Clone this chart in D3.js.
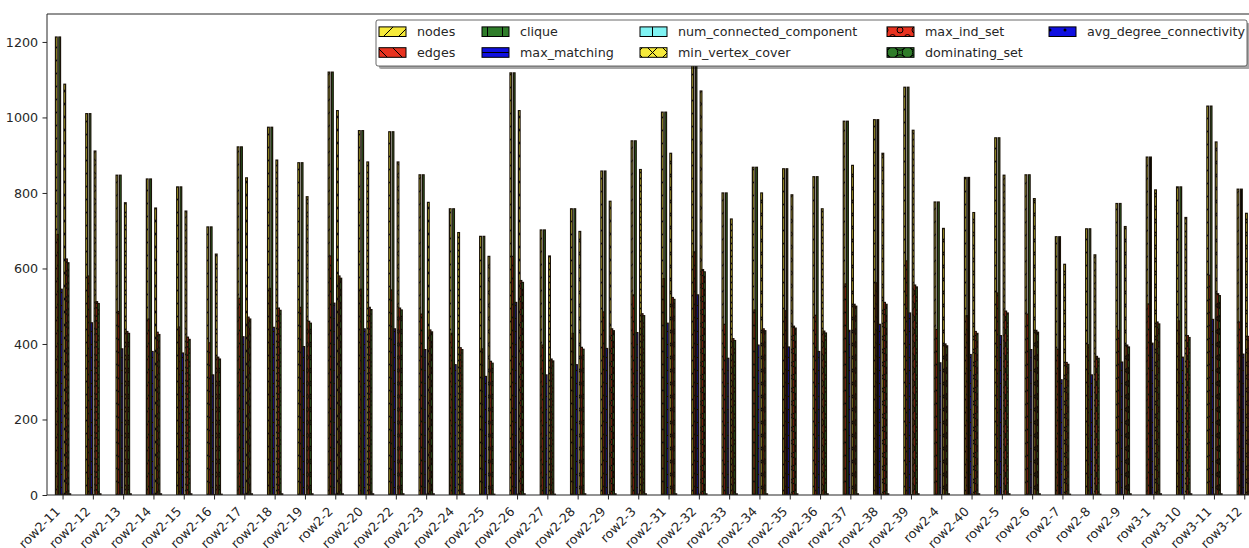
<!DOCTYPE html>
<html>
<head>
<meta charset="utf-8">
<script src="https://cdn.jsdelivr.net/npm/d3@7"></script>
<style>
  html, body { margin: 0; padding: 0; background: #fff; }
  svg { display: block; font-family: "DejaVu Sans", sans-serif; }
</style>
</head>
<body>
<svg id="chart" width="1249" height="548"></svg>
<script>
// ---- data -------------------------------------------------------------
const categories = ['row2-11','row2-12','row2-13','row2-14','row2-15','row2-16','row2-17','row2-18','row2-19','row2-2',
  'row2-20','row2-22','row2-23','row2-24','row2-25','row2-26','row2-27','row2-28','row2-29','row2-3',
  'row2-31','row2-32','row2-33','row2-34','row2-35','row2-36','row2-37','row2-38','row2-39','row2-4',
  'row2-40','row2-5','row2-6','row2-7','row2-8','row2-9','row3-1','row3-10','row3-11','row3-12'];

const nodes = [1213,1010,847,837,816,710,922,974,880,1120, 965,962,848,758,685,1118,702,758,858,938,
  1014,1150,800,868,864,843,990,994,1080,776, 841,946,848,684,705,772,895,816,1030,810];
const edges = [690,580,486,466,445,403,521,547,497,633, 545,543,479,428,387,632,397,428,485,530,
  573,644,452,490,488,476,559,562,620,438, 475,535,479,386,398,436,506,461,582,458];
const clique = [1213,1010,847,837,816,710,922,974,880,1120, 965,962,848,758,685,1118,702,758,858,938,
  1014,1150,800,868,864,843,990,994,1080,776, 841,946,848,684,705,772,895,816,1030,810];
const maxMatching = [545,456,387,380,376,318,419,444,393,508, 440,440,385,345,314,510,318,345,388,430,
  455,530,362,397,392,380,436,452,482,350, 372,422,385,305,318,352,402,365,465,373];
const numConnectedComponent = [2,1,1,2,1,1,2,1,1,2, 1,1,2,1,1,2,1,1,1,2, 1,2,1,1,2,1,1,2,1,1, 2,1,1,1,2,1,1,1,2,1];
const minVertexCover = [1088,911,774,760,752,638,840,887,790,1018, 882,882,775,695,632,1018,633,698,778,862,
  905,1070,731,800,795,758,873,905,966,706, 748,847,785,611,636,711,808,735,935,746];
const maxIndSet = [625,512,433,431,418,365,471,495,460,580, 497,495,437,390,354,568,360,391,440,480,
  523,597,414,440,447,434,505,510,556,400, 433,487,436,351,367,397,458,422,533,420];
const dominatingSet = [615,507,428,425,412,360,466,489,455,574, 491,490,432,385,349,563,355,386,435,475,
  518,591,409,435,442,429,500,505,551,395, 428,482,431,346,362,392,453,417,528,415];
const avgDegreeConnectivity = [3,3,3,3,3,2,3,3,3,3, 3,3,3,3,2,3,2,3,3,3, 3,3,3,3,3,3,3,3,3,3, 3,3,3,2,2,3,3,3,3,3];

const seriesNames = ['nodes','edges','clique','max_matching','num_connected_component',
  'min_vertex_cover','max_ind_set','dominating_set','avg_degree_connectivity'];
const seriesValues = [nodes, edges, clique, maxMatching, numConnectedComponent,
  minVertexCover, maxIndSet, dominatingSet, avgDegreeConnectivity];
const seriesColors = ['#f6ea3a','#e8321f','#2f7d2a','#1010e0','#7ff3f3',
  '#f6ea3a','#e8321f','#2f7d2a','#1010e0'];
const seriesHatches = ['/','\\','|','-','+','x','o','O','.'];
const yTicks = [0, 200, 400, 600, 800, 1000, 1200];

// ---- layout -----------------------------------------------------------
const svg = d3.select('#chart');
const W = 1249, H = 548;
const plotLeft = 47, plotTop = 14, plotBottom = 495;
const step = 30.3;
const fontSize = 12.7;

const x = d3.scaleBand()
  .domain(categories)
  .range([47.9, 47.9 + step * categories.length])
  .padding(0);
const groupWidth = x.bandwidth() * 0.5;
const xInner = d3.scaleBand()
  .domain(seriesNames)
  .range([-groupWidth / 2, groupWidth / 2]);
const y = d3.scaleLinear().domain([0, 1274]).range([plotBottom, plotTop]);

// ---- hatch patterns ---------------------------------------------------
const defs = svg.append('defs');
function makePattern(id, color, hatch, size, lw) {
  const s = size;
  const p = defs.append('pattern')
    .attr('id', id)
    .attr('patternUnits', 'userSpaceOnUse')
    .attr('width', s).attr('height', s);
  p.append('rect').attr('width', s).attr('height', s).attr('fill', color);
  const ln = (x1, y1, x2, y2) => p.append('line')
    .attr('x1', x1).attr('y1', y1).attr('x2', x2).attr('y2', y2)
    .attr('stroke', '#000').attr('stroke-width', lw);
  const ring = (cx, cy, r, filled) => p.append('circle')
    .attr('cx', cx).attr('cy', cy).attr('r', r)
    .attr('fill', filled ? '#000' : 'none')
    .attr('stroke', '#000').attr('stroke-width', filled ? 0 : lw);
  const fwd = () => { ln(0, s, s, 0); ln(-s, s, s, -s); ln(0, 2 * s, 2 * s, 0); };
  const back = () => { ln(0, 0, s, s); ln(-s, 0, s, 2 * s); ln(0, -s, 2 * s, s); };
  const lattice = (r, filled) => {
    [[0, 0], [s, 0], [0, s], [s, s], [s / 2, s / 2]].forEach(([cx, cy]) => ring(cx, cy, r, filled));
  };
  switch (hatch) {
    case '/': fwd(); break;
    case '\\': back(); break;
    case '|': ln(s / 2, 0, s / 2, s); break;
    case '-': ln(0, s / 2, s, s / 2); break;
    case '+': ln(s / 2, 0, s / 2, s); ln(0, s / 2, s, s / 2); break;
    case 'x': fwd(); back(); break;
    case 'o': lattice(s * 0.2, false); break;
    case 'O': lattice(s * 0.35, false); break;
    case '.': lattice(s * 0.1, true); break;
  }
}
seriesNames.forEach((name, i) => {
  makePattern('hatch-' + i, seriesColors[i], seriesHatches[i], 13, 1.2);
  makePattern('legend-hatch-' + i, seriesColors[i], seriesHatches[i], 15, 1);
});

defs.append('clipPath').attr('id', 'plot-clip')
  .append('rect').attr('x', plotLeft).attr('y', plotTop)
  .attr('width', W - plotLeft + 20).attr('height', plotBottom - plotTop);

// ---- bars -------------------------------------------------------------
const barLayer = svg.append('g').attr('clip-path', 'url(#plot-clip)');
seriesNames.forEach((name, i) => {
  barLayer.append('g')
    .selectAll('rect')
    .data(categories.map((c, j) => ({ c, v: seriesValues[i][j] })))
    .join('rect')
    .attr('x', d => x(d.c) + x.bandwidth() / 2 + xInner(name))
    .attr('width', xInner.bandwidth())
    .attr('y', d => y(d.v))
    .attr('height', d => y(0) - y(d.v))
    .attr('fill', 'url(#hatch-' + i + ')')
    .attr('stroke', '#1a1208')
    .attr('stroke-width', 1.25);
});

// ---- axes -------------------------------------------------------------
const yAxis = svg.append('g')
  .attr('transform', `translate(${plotLeft},0)`)
  .call(d3.axisLeft(y).tickValues(yTicks).tickFormat(d3.format('d'))
    .tickSize(4.5).tickSizeOuter(0).tickPadding(4.4));
yAxis.select('.domain').remove();
yAxis.selectAll('text').attr('font-size', fontSize).attr('font-family', '"DejaVu Sans", sans-serif').attr('fill', '#262626');
yAxis.selectAll('line').attr('stroke', '#262626');

const xAxis = svg.append('g')
  .attr('transform', `translate(0,${plotBottom})`)
  .call(d3.axisBottom(x).tickSize(4.5).tickSizeOuter(0));
xAxis.select('.domain').remove();
xAxis.selectAll('line').attr('stroke', '#262626');
xAxis.selectAll('text')
  .attr('font-size', fontSize)
  .attr('font-family', '"DejaVu Sans", sans-serif')
  .attr('fill', '#262626')
  .attr('text-anchor', 'end')
  .attr('dy', null)
  .attr('y', 0)
  .attr('transform', 'translate(-2.1,17.3) rotate(-45)');

// spines
const spine = svg.append('g').attr('stroke', '#262626').attr('stroke-width', 1).attr('fill', 'none');
spine.append('line').attr('x1', plotLeft).attr('x2', plotLeft).attr('y1', plotTop).attr('y2', plotBottom);
spine.append('line').attr('x1', plotLeft).attr('x2', W).attr('y1', plotBottom).attr('y2', plotBottom);
spine.append('line').attr('x1', plotLeft).attr('x2', W).attr('y1', plotTop).attr('y2', plotTop);

// ---- legend -----------------------------------------------------------
const legend = svg.append('g');
const lgX = 376, lgY = 20, lgW = 871, lgH = 46;
legend.append('rect')
  .attr('x', lgX + 3).attr('y', lgY + 3).attr('width', lgW).attr('height', lgH)
  .attr('rx', 2).attr('fill', '#000').attr('opacity', 0.35);
legend.append('rect')
  .attr('x', lgX).attr('y', lgY).attr('width', lgW).attr('height', lgH)
  .attr('rx', 2).attr('fill', '#fff').attr('stroke', '#444').attr('stroke-width', 0.8);

const colX = [379, 482, 640, 887, 1049];
const rowY = [31.7, 52.5];
seriesNames.forEach((name, i) => {
  const cx = colX[Math.floor(i / 2)], cy = rowY[i % 2];
  legend.append('rect')
    .attr('x', cx).attr('y', cy - 4.8).attr('width', 27).attr('height', 9.6)
    .attr('fill', 'url(#legend-hatch-' + i + ')')
    .attr('stroke', '#000').attr('stroke-width', 1);
  legend.append('text')
    .attr('x', cx + 38).attr('y', cy)
    .attr('dy', '0.36em')
    .attr('font-size', fontSize)
    .attr('fill', '#262626')
    .text(name);
});
</script>
</body>
</html>
